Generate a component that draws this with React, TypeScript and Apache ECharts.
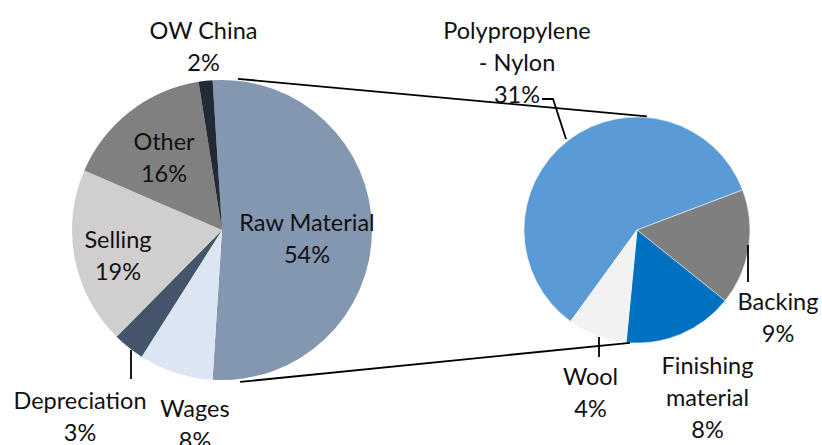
import React, { useEffect, useRef } from "react";
import * as echarts from "echarts";

// ---- data ----
const primaryNames = ["Raw Material", "Wages", "Depreciation", "Selling", "Other", "OW China"];
const secondaryNames = ["Polypropylene\n- Nylon", "Backing", "Finishing\nmaterial", "Wool"];
const secondaryValues = [30.8, 8.6, 8.2, 4.4];
const secondaryPct = [31, 9, 8, 4];
const otherPrimaryValues = [8, 3.4, 19.1, 16, 1.5]; // Wages .. OW China
const primaryPct = [54, 8, 3, 19, 16, 2];

// ---- styles / layout ----
const primaryColors = ["#8497B0", "#DCE6F3", "#44546A", "#D0CECE", "#808080", "#222A35"];
const secondaryColors = ["#5B9BD5", "#7F7F7F", "#0070C0", "#F2F2F2"];
const LEFT = { cx: 222, cy: 230, r: 150, start: 93.6 };
const RIGHT = { cx: 637, cy: 230, r: 113, start: 234 };
const primaryLabelPos: [number, number][] = [
  [307, 238], [195, 424], [80, 415.5], [118, 255], [164, 157], [203.5, 45.5],
];
const secondaryLabelPos: [number, number][] = [
  [517, 61.5], [778, 317], [707.5, 397], [590.5, 392],
];
const leaders: number[][][] = [
  [[542, 99], [553, 99], [566, 139]],
  [[131, 350], [131, 379]],
  [[599, 337], [599, 357]],
  [[748, 245], [748, 282]],
];
// connector angles (deg) on left & right pies
const connTop = { left: 84, right: 85, leftR: 152, rightR: 114 };
const connBottom = { left: -83.2, right: -93.6, leftR: 153, rightR: 113 };

function pt(c: { cx: number; cy: number }, r: number, deg: number): [number, number] {
  const a = (deg * Math.PI) / 180;
  return [c.cx + r * Math.cos(a), c.cy - r * Math.sin(a)];
}

const FONT = "Lato";

export default function App() {
  const ref = useRef<HTMLDivElement>(null);
  useEffect(() => {
    if (!ref.current) return;
    const chart = echarts.init(ref.current, null, { renderer: "svg" });
    const rawValue = secondaryValues.reduce((a, b) => a + b, 0);
    const primaryValues = [rawValue, ...otherPrimaryValues];

    const labelStyle = {
      show: true,
      position: "inside",
      fontFamily: FONT,
      fontSize: 23.5,
      lineHeight: 32,
      color: "#111",
      align: "center",
    };

    const t1 = pt(LEFT, connTop.leftR, connTop.left);
    const t2 = pt(RIGHT, connTop.rightR, connTop.right);
    const b1 = pt(LEFT, connBottom.leftR, connBottom.left);
    const b2 = pt(RIGHT, connBottom.rightR, connBottom.right);

    const lineStyle = { stroke: "#000", lineWidth: 1.8, fill: null };

    chart.setOption({
      animation: false,
      backgroundColor: "#fff",
      series: [
        {
          type: "pie",
          center: [LEFT.cx, LEFT.cy],
          radius: LEFT.r,
          startAngle: LEFT.start,
          clockwise: true,
          avoidLabelOverlap: false,
          silent: true,
          data: primaryNames.map((n, i) => ({
            name: n,
            value: primaryValues[i],
            itemStyle: { color: primaryColors[i] },
            label: { ...labelStyle, formatter: `${n}\n${primaryPct[i]}%` },
          })),
          labelLine: { show: false },
          labelLayout: (p: any) => ({
            x: primaryLabelPos[p.dataIndex][0],
            y: primaryLabelPos[p.dataIndex][1],
            align: "center",
            verticalAlign: "middle",
          }),
        },
        {
          type: "pie",
          center: [RIGHT.cx, RIGHT.cy],
          radius: RIGHT.r,
          startAngle: RIGHT.start,
          clockwise: true,
          avoidLabelOverlap: false,
          silent: true,
          itemStyle: { borderColor: "#fff", borderWidth: 0.5 },
          data: secondaryNames.map((n, i) => ({
            name: n,
            value: secondaryValues[i],
            itemStyle: { color: secondaryColors[i] },
            label: { ...labelStyle, formatter: `${n}\n${secondaryPct[i]}%` },
          })),
          labelLine: { show: false },
          labelLayout: (p: any) => ({
            x: secondaryLabelPos[p.dataIndex][0],
            y: secondaryLabelPos[p.dataIndex][1],
            align: "center",
            verticalAlign: "middle",
          }),
        },
      ],
      graphic: [
        { type: "line", z: 10, shape: { x1: t1[0], y1: t1[1], x2: t2[0], y2: t2[1] }, style: lineStyle },
        { type: "line", z: 10, shape: { x1: b1[0], y1: b1[1], x2: b2[0], y2: b2[1] }, style: lineStyle },
        ...leaders.map((pts) => ({
          type: "polyline",
          z: 10,
          shape: { points: pts },
          style: lineStyle,
        })),
      ],
    });
    return () => chart.dispose();
  }, []);

  return (
    <div
      ref={ref}
      style={{ position: "fixed", left: 0, top: 0, width: 822, height: 445 }}
    />
  );
}
